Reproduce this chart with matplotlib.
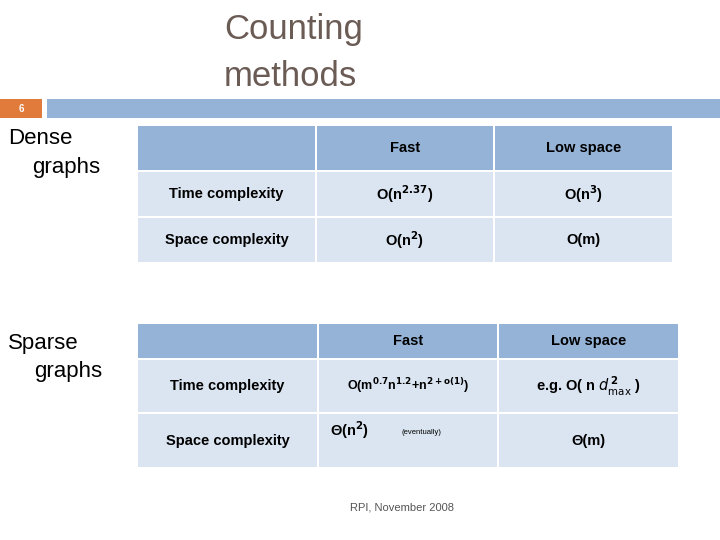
import matplotlib.pyplot as plt
import matplotlib.patches as mpatches

plt.rcParams['mathtext.default'] = 'bf'
plt.rcParams['font.family'] = ['Liberation Sans', 'DejaVu Sans']

col_headers = ['', 'Fast', 'Low space']
row_labels = ['Time complexity', 'Space complexity']
dense_cells = [['O(n$^{2.37}$)', 'O(n$^{3}$)'],
               ['O(n$^{2}$)', 'O(m)']]
sparse_cells = [['O(m$^{0.7}$n$^{1.2}$+n$^{2+o(1)}$)', 'e.g. O( n $\\mathit{d}^{\\,2}_{\\max}$ )'],
                ['', 'Θ(m)']]

HEAD = '#95b3d7'
BODY = '#dbe5f1'
W, H = 720, 540

fig = plt.figure(figsize=(7.2, 5.4), dpi=100)
ax = fig.add_axes([0, 0, 1, 1])
ax.set_xlim(0, W)
ax.set_ylim(H, 0)
ax.axis('off')


def rect(x0, y0, x1, y1, color):
    ax.add_patch(mpatches.Rectangle((x0, y0), x1 - x0, y1 - y0, color=color, lw=0))


# title and slide number bar
ax.text(224, 30, 'Counting', fontsize=25, color='#6b5b55', va='center')
ax.text(224, 76, 'methods', fontsize=25, color='#6b5b55', va='center')
rect(0, 99, 42, 118, '#e07b3c')
ax.text(21, 109, '6', fontsize=7, color='white', ha='center', va='center', fontweight='bold')
rect(47, 99, 720, 118, HEAD)

ax.text(8, 138, 'Dense', fontsize=16, va='center')
ax.text(32, 168, 'graphs', fontsize=16, va='center')
ax.text(8, 343, 'Sparse', fontsize=16, va='center')
ax.text(34, 372, 'graphs', fontsize=16, va='center')


def table(cols, rows, cells, fs_cells):
    for r in range(3):
        y0, y1 = rows[r]
        for c in range(3):
            x0, x1 = cols[c]
            rect(x0, y0, x1, y1, HEAD if r == 0 else BODY)
            xm, ym = (x0 + x1) / 2, (y0 + y1) / 2
            if r == 0:
                ax.text(xm, ym, col_headers[c], fontsize=10.5, ha='center', va='center',
                        fontweight='bold')
            elif c == 0:
                ax.text(xm, ym, row_labels[r - 1], fontsize=10.5, ha='center', va='center',
                        fontweight='bold')
            else:
                ax.text(xm, ym, cells[r - 1][c - 1], fontsize=fs_cells[r - 1][c - 1],
                        ha='center', va='center', fontweight='bold')


table([(138, 315), (317, 493), (495, 672)],
      [(126, 170), (172, 216), (218, 262)], dense_cells,
      [[10.5, 10.5], [10.5, 10.5]])
table([(138, 317), (319, 497), (499, 678)],
      [(324, 358), (360, 412), (414, 467)], sparse_cells,
      [[9, 10.5], [10.5, 10.5]])
ax.text(330, 430, 'Θ(n$^{2}$)', fontsize=10.5, va='center', fontweight='bold')
ax.text(402, 432, '(eventually)', fontsize=5.5, va='center')

ax.text(402, 507, 'RPI, November 2008', fontsize=8, color='#555555', ha='center', va='center')

fig.savefig('out.png', dpi=100)
